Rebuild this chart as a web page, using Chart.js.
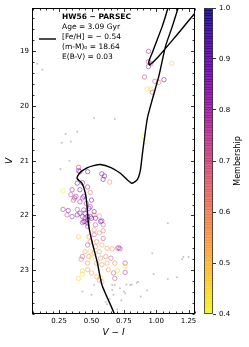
<!DOCTYPE html>
<html>
<head>
<meta charset="utf-8">
<script src="https://cdn.jsdelivr.net/npm/chart.js@4.4.1/dist/chart.umd.min.js"></script>
<style>
  html, body { margin: 0; padding: 0; background: #fff; }
  #wrap { position: relative; width: 249px; height: 347px; }
  #cmd { position: absolute; left: 0; top: 0; }
  #cbar { position: absolute; left: 200px; top: 0; }
</style>
</head>
<body>
<div id="wrap">
  <canvas id="cmd" width="200" height="347"></canvas>
  <canvas id="cbar" width="49" height="347"></canvas>
</div>
<script>
// PARSEC isochrone (V-I, V), runs off the top of the plot near the RGB tip
var isoVI = [0.70, 0.677, 0.581, 0.543, 0.504, 0.477, 0.465, 0.452, 0.426, 0.388, 0.41, 0.465, 0.516, 0.568, 0.646, 0.723, 0.808, 0.853, 0.878, 0.891, 0.904, 0.932, 0.969, 1.020, 1.072, 1.124, 1.188, 1.30, 1.111, 1.072, 1.046, 1.008, 0.969, 0.943, 0.948, 1.020, 1.150, 1.291, 1.45];
var isoV  = [24.02, 23.80, 23.27, 22.84, 22.48, 22.17, 21.81, 21.59, 21.41, 21.32, 21.22, 21.13, 21.09, 21.07, 21.12, 21.23, 21.41, 21.35, 21.17, 20.92, 20.68, 20.22, 19.89, 19.46, 18.91, 18.55, 18.06, 17.00, 18.06, 18.36, 18.55, 18.79, 19.03, 19.19, 19.25, 19.09, 18.73, 18.33, 17.90];

// member stars: colour, magnitude, membership probability
var memVI = [0.94, 0.94, 0.96, 0.94, 1.12, 0.91, 1.06, 1.02, 0.99, 0.93, 0.96, 0.97, 0.90, 0.92,
  0.40, 0.40, 0.41, 0.47, 0.58, 0.60, 0.59, 0.64, 0.28, 0.39, 0.43, 0.35, 0.41, 0.47, 0.38, 0.34,
  0.43, 0.49, 0.36, 0.41, 0.46, 0.50, 0.49, 0.28, 0.32, 0.39, 0.44, 0.31, 0.35, 0.39, 0.43, 0.47,
  0.52, 0.56, 0.43, 0.45, 0.47, 0.50, 0.53, 0.57, 0.37, 0.44, 0.41, 0.48, 0.45, 0.52, 0.49, 0.53,
  0.45, 0.44, 0.47, 0.58, 0.59, 0.47, 0.52, 0.59, 0.56, 0.40, 0.48, 0.52, 0.59, 0.49, 0.54, 0.47,
  0.53, 0.58, 0.62, 0.66, 0.70, 0.71, 0.72, 0.45, 0.49, 0.52, 0.56, 0.43, 0.48, 0.50, 0.57, 0.61,
  0.65, 0.42, 0.47, 0.54, 0.58, 0.62, 0.68, 0.76, 0.76, 0.43, 0.47, 0.50, 0.54, 0.57, 0.63, 0.67,
  0.70, 0.76, 0.40, 0.56, 0.58, 0.68, 0.43];
var memV  = [19.00, 19.19, 19.23, 19.28, 19.22, 19.47, 19.52, 19.57, 19.55, 19.69, 19.69, 19.75, 20.56, 20.65,
  21.12, 21.18, 21.20, 21.20, 21.24, 21.28, 21.34, 21.39, 21.55, 21.41, 21.40, 21.53, 21.53, 21.48, 21.65, 21.62,
  21.68, 21.58, 21.72, 21.75, 21.78, 21.72, 21.84, 21.89, 21.91, 21.89, 21.90, 21.99, 22.02, 21.99, 22.02, 22.02,
  21.99, 22.01, 22.13, 22.11, 22.08, 22.05, 22.17, 22.11, 21.68, 21.65, 21.96, 21.87, 21.96, 21.93, 22.02, 22.05,
  22.05, 22.11, 22.14, 22.10, 22.17, 22.20, 22.26, 22.28, 22.32, 22.39, 22.39, 22.35, 22.42, 22.48, 22.48, 22.54,
  22.57, 22.54, 22.60, 22.61, 22.60, 22.59, 22.61, 22.66, 22.66, 22.69, 22.66, 22.75, 22.75, 22.78, 22.78, 22.75,
  22.78, 22.80, 22.87, 22.87, 22.90, 22.87, 22.87, 22.87, 22.93, 23.01, 22.99, 23.05, 23.12, 23.14, 22.99, 23.05,
  23.01, 23.04, 23.15, 23.18, 23.21, 23.15, 23.07];
var memP  = [0.80, 0.75, 0.70, 0.80, 0.48, 0.75, 0.88, 0.65, 0.72, 0.43, 0.43, 0.70, 0.42, 0.42,
  0.75, 0.85, 0.85, 0.90, 0.92, 0.88, 0.90, 0.58, 0.42, 0.90, 0.80, 0.80, 0.88, 0.80, 0.78, 0.72,
  0.80, 0.65, 0.72, 0.80, 0.78, 0.88, 0.80, 0.78, 0.85, 0.72, 0.80, 0.72, 0.80, 0.88, 0.80, 0.88,
  0.58, 0.58, 0.80, 0.85, 0.88, 0.88, 0.72, 0.88, 0.80, 0.85, 0.80, 0.88, 0.88, 0.88, 0.80, 0.88,
  0.80, 0.80, 0.80, 0.88, 0.70, 0.80, 0.58, 0.65, 0.58, 0.47, 0.58, 0.72, 0.72, 0.58, 0.60, 0.72,
  0.58, 0.55, 0.58, 0.58, 0.60, 0.78, 0.80, 0.55, 0.45, 0.55, 0.58, 0.70, 0.58, 0.45, 0.58, 0.58,
  0.70, 0.65, 0.58, 0.58, 0.58, 0.55, 0.58, 0.78, 0.45, 0.45, 0.55, 0.55, 0.55, 0.45, 0.55, 0.70,
  0.45, 0.78, 0.45, 0.58, 0.55, 0.70, 0.45];

// field stars (no membership)
var fieldVI = [0.08, 0.12, 0.52, 0.68, 0.30, 0.39, 0.27, 0.34, 0.33, 0.26, 1.09, 0.97, 1.20, 1.21, 1.25, 0.98, 1.09, 1.16, 0.85, 0.86,
  0.80, 0.93, 0.88, 0.96, 0.66, 0.66, 0.68, 0.72, 0.75, 0.67, 0.52, 0.77, 0.81, 0.43, 0.50, 0.76, 0.61, 0.64, 0.70, 0.62, 0.73];
var fieldV  = [19.23, 19.34, 20.22, 20.24, 20.51, 20.47, 20.67, 20.65, 21.00, 21.15, 22.14, 22.69, 22.80, 22.76, 22.76, 23.07, 23.16, 23.13, 23.23, 23.21,
  23.27, 23.37, 23.48, 23.76, 23.36, 23.27, 23.27, 23.33, 23.39, 23.45, 23.27, 23.26, 23.26, 23.39, 23.45, 23.42, 23.58, 23.52, 23.72, 23.62, 23.55];

var xTicks = [0.25, 0.50, 0.75, 1.00, 1.25];
var yTicks = [19, 20, 21, 22, 23];
var cbTicks = [0.4, 0.5, 0.6, 0.7, 0.8, 0.9, 1.0];

var FONT = "'DejaVu Sans', sans-serif";

// plasma colormap, reversed over 0.4..1.0
var PLASMA = [[13,8,135],[65,4,157],[106,0,168],[143,13,164],[177,42,144],[204,71,120],
  [225,100,98],[242,132,75],[252,166,54],[252,206,37],[240,249,33]];
function plasma(t) {
  t = Math.max(0, Math.min(1, t));
  var s = t * 10, i = Math.min(9, Math.floor(s)), f = s - i;
  var a = PLASMA[i], b = PLASMA[i + 1];
  return [0, 1, 2].map(function (k) { return Math.round(a[k] + (b[k] - a[k]) * f); });
}
function memColor(m, alpha) {
  var c = plasma(1 - (m - 0.4) / 0.6);
  return 'rgba(' + c.join(',') + ',' + alpha + ')';
}

function pts(xs, ys) {
  return xs.map(function (v, i) { return { x: v, y: ys[i] }; });
}

// frame with inward major/minor ticks on all four sides
var frameTicks = {
  id: 'frameTicks',
  afterDatasetsDraw: function (chart) {
    var a = chart.chartArea, ctx = chart.ctx;
    var xs = chart.scales.x, ys = chart.scales.y;
    var L = Math.round(a.left) + 0.5, R = Math.round(a.right) - 0.5;
    var T = Math.round(a.top) + 0.5, B = Math.round(a.bottom) - 0.5;
    ctx.save();
    ctx.strokeStyle = '#000';
    ctx.lineWidth = 1;
    ctx.strokeRect(L, T, R - L, B - T);
    ctx.lineWidth = 0.8;
    function xt(v, len) {
      var p = Math.round(xs.getPixelForValue(v)) + 0.5;
      ctx.beginPath();
      ctx.moveTo(p, B); ctx.lineTo(p, B - len);
      ctx.moveTo(p, T); ctx.lineTo(p, T + len);
      ctx.stroke();
    }
    function yt(v, len) {
      var p = Math.round(ys.getPixelForValue(v)) + 0.5;
      ctx.beginPath();
      ctx.moveTo(L, p); ctx.lineTo(L + len, p);
      ctx.moveTo(R, p); ctx.lineTo(R - len, p);
      ctx.stroke();
    }
    for (var k = 1; k <= 26; k++) {
      var v = k * 0.05;
      if (v > xs.max) break;
      xt(v, k % 5 === 0 ? 3.5 : 2);
    }
    for (var j = 92; j <= 119; j++) {
      var w = j * 0.2;
      if (w < ys.min || w > ys.max) continue;
      yt(w, j % 5 === 0 ? 3.5 : 2);
    }
    ctx.restore();
  }
};

// text block in upper left, with isochrone line sample
var infoText = {
  id: 'infoText',
  afterDraw: function (chart) {
    var ctx = chart.ctx;
    ctx.save();
    ctx.fillStyle = '#000';
    ctx.textBaseline = 'middle';
    ctx.textAlign = 'left';
    ctx.font = 'bold 7.5px ' + FONT;
    ctx.fillText('HW56 \u2212 PARSEC', 62, 17.5);
    ctx.font = '7.5px ' + FONT;
    ctx.fillText('Age = 3.09 Gyr', 62, 27.5);
    ctx.fillText('[Fe/H] = \u2212 0.54', 62, 37.5);
    ctx.fillText('(m-M)\u2080 = 18.64', 62, 47.5);
    ctx.fillText('E(B-V) = 0.03', 62, 57.5);
    ctx.strokeStyle = '#000';
    ctx.lineWidth = 1.4;
    ctx.beginPath();
    ctx.moveTo(39, 39); ctx.lineTo(56, 39);
    ctx.stroke();
    ctx.restore();
  }
};

new Chart(document.getElementById('cmd'), {
  type: 'scatter',
  data: {
    datasets: [{
      label: 'PARSEC',
      data: pts(isoVI, isoV),
      showLine: true,
      borderColor: '#000',
      borderWidth: 1.4,
      pointRadius: 0,
      tension: 0.2,
      fill: false
    }, {
      label: 'members',
      data: pts(memVI, memV),
      pointRadius: 2.2,
      pointBackgroundColor: 'rgba(0,0,0,0)',
      pointBorderColor: memP.map(function (m) { return memColor(m, 0.72); }),
      pointBorderWidth: 0.7
    }, {
      label: 'field',
      data: pts(fieldVI, fieldV),
      pointRadius: 1,
      pointBackgroundColor: '#c4c4c4',
      pointBorderWidth: 0
    }]
  },
  options: {
    responsive: false,
    animation: false,
    devicePixelRatio: 1,
    layout: { padding: { top: 8, right: 5, left: 0, bottom: 0 } },
    plugins: { legend: { display: false }, tooltip: { enabled: false } },
    scales: {
      x: {
        type: 'linear', min: 0.04, max: 1.30,
        grid: { display: false, drawTicks: false },
        border: { display: false },
        afterBuildTicks: function (s) { s.ticks = xTicks.map(function (v) { return { value: v }; }); },
        afterFit: function (s) { s.height = 33; },
        ticks: {
          padding: 3, color: '#000', maxRotation: 0, autoSkip: false,
          font: { family: FONT, size: 7 },
          callback: function (v) { return v.toFixed(2); }
        },
        title: {
          display: true, text: 'V \u2212 I', color: '#000',
          font: { family: FONT, size: 9, style: 'italic' },
          padding: { top: 0, bottom: 8.6 }
        }
      },
      y: {
        type: 'linear', reverse: true, min: 18.21, max: 23.8,
        grid: { display: false, drawTicks: false },
        border: { display: false },
        afterBuildTicks: function (s) { s.ticks = yTicks.map(function (v) { return { value: v }; }); },
        afterFit: function (s) { s.width = 32; },
        ticks: {
          padding: 3, color: '#000',
          font: { family: FONT, size: 7 },
          callback: function (v) { return String(v); }
        },
        title: {
          display: true, text: 'V', color: '#000',
          font: { family: FONT, size: 9, style: 'italic' },
          padding: { top: 4.6, bottom: 0 }
        }
      }
    }
  },
  plugins: [frameTicks, infoText]
});

// colorbar gradient + frame + label
var colorbar = {
  id: 'colorbar',
  beforeDatasetsDraw: function (chart) {
    var a = chart.chartArea, ctx = chart.ctx, ys = chart.scales.y;
    ctx.save();
    for (var k = 0; k < 120; k++) {
      var m0 = 0.4 + k * 0.005, m1 = m0 + 0.005;
      var p0 = ys.getPixelForValue(m0), p1 = ys.getPixelForValue(m1);
      ctx.fillStyle = memColor(m0 + 0.0025, 0.88);
      ctx.fillRect(a.left, Math.floor(p1), a.right - a.left, Math.ceil(p0) - Math.floor(p1));
    }
    ctx.strokeStyle = '#333';
    ctx.lineWidth = 0.8;
    ctx.strokeRect(Math.round(a.left) + 0.5, Math.round(a.top) + 0.5,
      Math.round(a.right - a.left) - 1, Math.round(a.bottom - a.top) - 1);
    ctx.translate(38, (a.top + a.bottom) / 2);
    ctx.rotate(-Math.PI / 2);
    ctx.fillStyle = '#000';
    ctx.textAlign = 'center';
    ctx.textBaseline = 'middle';
    ctx.font = '8px ' + FONT;
    ctx.fillText('Membership', 0, 0);
    ctx.restore();
  }
};

new Chart(document.getElementById('cbar'), {
  type: 'scatter',
  data: { datasets: [] },
  options: {
    responsive: false,
    animation: false,
    devicePixelRatio: 1,
    layout: { padding: { top: 8, left: 4, right: 0, bottom: 33 } },
    plugins: { legend: { display: false }, tooltip: { enabled: false } },
    scales: {
      x: { display: false, min: 0, max: 1 },
      y: {
        position: 'right', min: 0.4, max: 1.0,
        afterBuildTicks: function (s) { s.ticks = cbTicks.map(function (v) { return { value: v }; }); },
        afterFit: function (s) { s.width = 36; },
        grid: { drawOnChartArea: false, drawTicks: true, tickLength: 3, color: '#000', lineWidth: 0.8 },
        border: { display: false },
        ticks: {
          padding: 3, color: '#000',
          font: { family: FONT, size: 7 },
          callback: function (v) { return v.toFixed(1); }
        }
      }
    }
  },
  plugins: [colorbar]
});
</script>
</body>
</html>
